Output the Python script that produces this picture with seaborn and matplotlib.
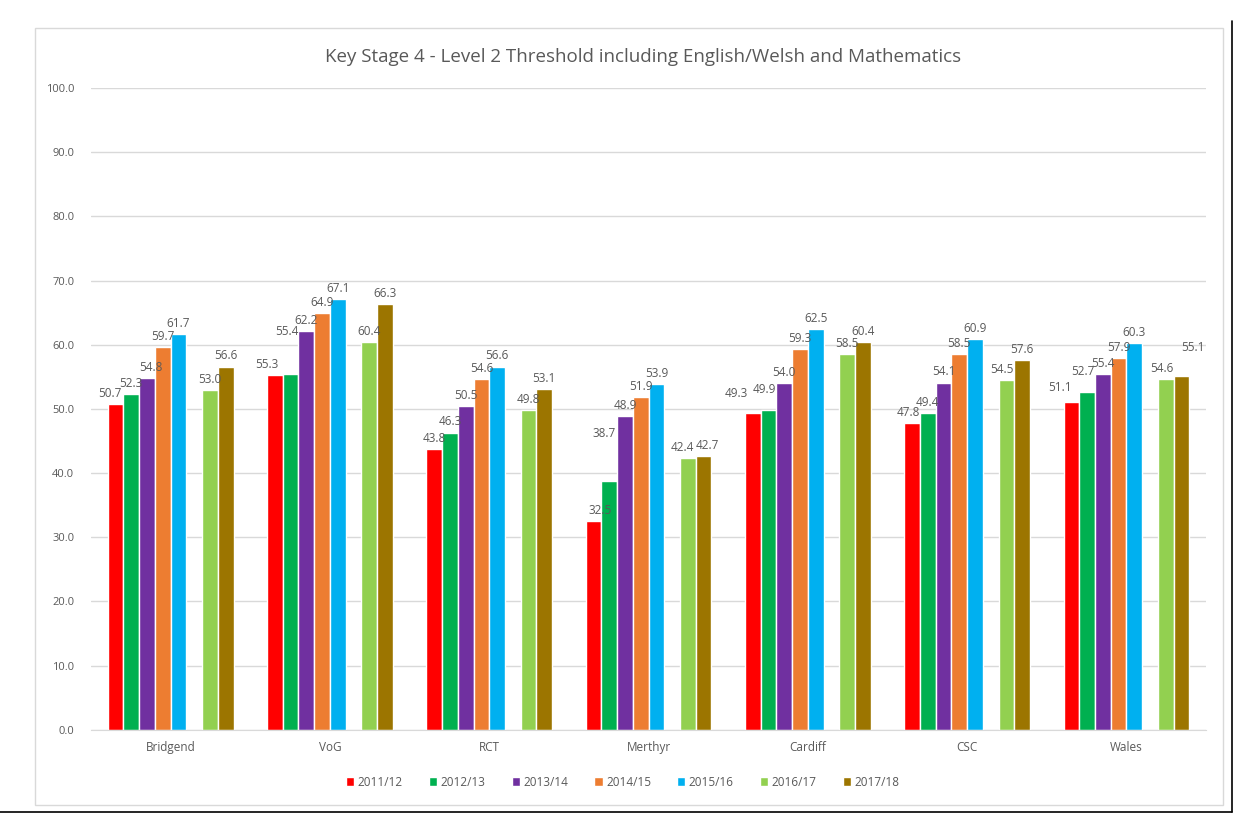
import pandas as pd
import matplotlib.pyplot as plt
import seaborn as sns
from matplotlib.patches import Rectangle, Patch

areas = ['Bridgend', 'VoG', 'RCT', 'Merthyr', 'Cardiff', 'CSC', 'Wales']
years = ['2011/12', '2012/13', '2013/14', '2014/15', '2015/16', ' ', '2016/17', '2017/18']

y1112 = [50.7, 55.3, 43.8, 32.5, 49.3, 47.8, 51.1]
y1213 = [52.3, 55.4, 46.3, 38.7, 49.9, 49.4, 52.7]
y1314 = [54.8, 62.2, 50.5, 48.9, 54.0, 54.1, 55.4]
y1415 = [59.7, 64.9, 54.6, 51.9, 59.3, 58.5, 57.9]
y1516 = [61.7, 67.1, 56.6, 53.9, 62.5, 60.9, 60.3]
blank = [None] * 7  # empty slot in the original chart
y1617 = [53.0, 60.4, 49.8, 42.4, 58.5, 54.5, 54.6]
y1718 = [56.6, 66.3, 53.1, 42.7, 60.4, 57.6, 55.1]

colors = ['#FF0000', '#00B050', '#7030A0', '#ED7D31', '#00B0F0', '#FFFFFF', '#92D050', '#9C7500']

series = [y1112, y1213, y1314, y1415, y1516, blank, y1617, y1718]
rows = []
for yr, vals in zip(years, series):
    for a, v in zip(areas, vals):
        rows.append({'area': a, 'year': yr, 'value': v})
df = pd.DataFrame(rows)

# label nudges (points) where labels crowd, roughly as in the original
nudge = {
    ('VoG', '2011/12'): (-6, 3), ('VoG', '2012/13'): (-3, 26),
    ('Bridgend', '2011/12'): (-4, 3), ('Bridgend', '2013/14'): (3, 3),
    ('Merthyr', '2012/13'): (-4, 30), ('Merthyr', '2011/12'): (5, 3),
    ('Merthyr', '2016/17'): (-4, 3), ('Merthyr', '2017/18'): (3, 3),
    ('Cardiff', '2011/12'): (-12, 10), ('Cardiff', '2012/13'): (-3, 10),
    ('Wales', '2011/12'): (-8, 6), ('Wales', '2012/13'): (-3, 10),
    ('Wales', '2017/18'): (8, 16), ('Wales', '2016/17'): (-3, 3),
    ('CSC', '2016/17'): (-3, 3), ('CSC', '2011/12'): (-3, 3),
}

sns.set_style('white')
plt.rcParams['font.family'] = ['Open Sans', 'DejaVu Sans']

fig = plt.figure(figsize=(12.53, 8.32), dpi=100)
ax = fig.add_axes([0.0726, 0.123, 0.890, 0.771])

sns.barplot(data=df, x='area', y='value', hue='year', hue_order=years, order=areas,
            palette=dict(zip(years, colors)), width=0.79, gap=0, errorbar=None,
            saturation=1, ax=ax, legend=False)

for yr, c in zip(years, ax.containers):
    if not yr.strip():
        continue
    labels = ['%.1f' % h.get_height() for h in c]
    anns = ax.bar_label(c, labels=labels, padding=3, fontsize=8.5, color='#595959')
    for a, ann in zip(areas, anns):
        ann.set_zorder(10)
        if (a, yr) in nudge:
            ann.xyann = nudge[(a, yr)]

ax.set_ylim(0, 100)
ax.set_yticks(range(0, 101, 10))
ax.set_yticklabels(['%.1f' % v for v in range(0, 101, 10)], fontsize=8, color='#595959')
ax.set_xlim(-0.5, 6.5)
ax.tick_params(axis='x', labelsize=8.5, labelcolor='#595959', length=0, pad=8)
ax.tick_params(axis='y', length=0, pad=12)
ax.yaxis.grid(True, color='#D9D9D9', linewidth=1)
ax.set_axisbelow(True)
for s in ['top', 'right', 'left']:
    ax.spines[s].set_visible(False)
ax.spines['bottom'].set_color('#D9D9D9')
ax.set_xlabel('')
ax.set_ylabel('')

fig.text(0.513, 0.932, 'Key Stage 4 - Level 2 Threshold including English/Welsh and Mathematics',
         ha='center', va='center', fontsize=13.5, color='#595959')

handles = [Patch(facecolor=c, label=y) for y, c in zip(years, colors) if y.strip()]
fig.legend(handles=handles, loc='center', bbox_to_anchor=(0.497, 0.06), ncol=7, frameon=False,
           fontsize=8.5, handlelength=0.7, handleheight=0.7, handletextpad=0.3, columnspacing=2.2,
           labelcolor='#595959')

fig.patches.append(Rectangle((0.028, 0.032), 0.948, 0.934, transform=fig.transFigure,
                             fill=False, edgecolor='#D9D9D9', linewidth=1))
fig.lines.append(plt.Line2D([0.983, 0.983], [0.024, 0.975], transform=fig.transFigure, color='black', linewidth=1.2))
fig.lines.append(plt.Line2D([0.0, 0.983], [0.024, 0.024], transform=fig.transFigure, color='black', linewidth=1.2))

fig.savefig('out.png', dpi=100)
